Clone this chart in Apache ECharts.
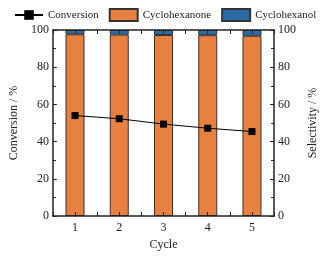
<!DOCTYPE html>
<html>
<head>
<meta charset="utf-8">
<script src="https://cdn.jsdelivr.net/npm/echarts@6/dist/echarts.min.js"></script>
<style>
  html, body { margin: 0; padding: 0; background: #fff; }
  #chart { width: 327px; height: 256px; }
</style>
</head>
<body>
<div id="chart"></div>
<script>
const cycles = ["1", "2", "3", "4", "5"];
const conversion = [54.0, 52.3, 49.4, 47.2, 45.4];
const cyclohexanone = [97.7, 97.5, 97.3, 97.2, 96.9];
const cyclohexanol = [2.3, 2.5, 2.7, 2.8, 3.1];

const FONT = "Liberation Serif";
const AXIS_COLOR = "#222";

const chart = echarts.init(document.getElementById("chart"));

// 눈금 전용 값 축 (0.5 간격, 라벨 없음)
const tickAxis = (pos) => ({
  type: "value",
  position: pos,
  min: 0.5,
  max: 5.5,
  interval: 0.5,
  z: 10,
  axisLine: { show: true, lineStyle: { color: AXIS_COLOR, width: 1.5 } },
  axisTick: { show: true, inside: true, length: 4, lineStyle: { color: AXIS_COLOR } },
  axisLabel: { show: false },
  splitLine: { show: false },
});

const yBase = {
  type: "value",
  min: 0,
  max: 100,
  interval: 20,
  z: 10,
  nameLocation: "middle",
  nameTextStyle: { fontFamily: FONT, fontSize: 12, color: "#222" },
  axisLine: { show: true, lineStyle: { color: AXIS_COLOR, width: 1.5 } },
  axisTick: { show: true, inside: true, length: 4, lineStyle: { color: AXIS_COLOR } },
  minorTick: { show: true, splitNumber: 2, length: 3, lineStyle: { color: AXIS_COLOR } },
  splitLine: { show: false },
  axisLabel: { fontFamily: FONT, fontSize: 12, color: "#222", margin: 4 },
};

const option = {
  animation: false,
  textStyle: { fontFamily: FONT },
  legend: {
    top: 3,
    left: 9,
    width: 320,
    itemGap: 10,
    itemWidth: 28,
    itemHeight: 12,
    textStyle: { fontFamily: FONT, fontSize: 11, color: "#222" },
    data: [
      { name: "Conversion" },
      { name: "Cyclohexanone", icon: "rect" },
      { name: "Cyclohexanol", icon: "rect" },
    ],
  },
  grid: { left: 47, right: 41, top: 30, bottom: 33 },
  xAxis: [
    {
      type: "category",
      data: cycles,
      position: "bottom",
      name: "Cycle",
      nameLocation: "middle",
      nameGap: 23,
      nameTextStyle: { fontFamily: FONT, fontSize: 12, color: "#222" },
      axisLine: { show: false },
      axisTick: { show: false },
      axisLabel: { fontFamily: FONT, fontSize: 12, color: "#222", margin: 6 },
    },
    tickAxis("bottom"),
    tickAxis("top"),
  ],
  yAxis: [
    Object.assign({}, yBase, { position: "left", name: "Conversion / %", nameGap: 23 }),
    Object.assign({}, yBase, { position: "right", name: "Selectivity / %", nameGap: 24 }),
  ],
  series: [
    {
      name: "Cyclohexanone",
      type: "bar",
      stack: "sel",
      xAxisIndex: 0,
      yAxisIndex: 1,
      barWidth: 19,
      itemStyle: { color: "#E8803F", borderColor: "#333", borderWidth: 1 },
      data: cyclohexanone,
    },
    {
      name: "Cyclohexanol",
      type: "bar",
      stack: "sel",
      xAxisIndex: 0,
      yAxisIndex: 1,
      barWidth: 19,
      itemStyle: { color: "#2B6CA8", borderColor: "#333", borderWidth: 1 },
      data: cyclohexanol,
    },
    {
      name: "Conversion",
      type: "line",
      xAxisIndex: 0,
      yAxisIndex: 0,
      z: 5,
      symbol: "rect",
      symbolSize: 7,
      lineStyle: { color: "#000", width: 1 },
      itemStyle: { color: "#000" },
      data: conversion,
    },
  ],
};

chart.setOption(option);
</script>
</body>
</html>
